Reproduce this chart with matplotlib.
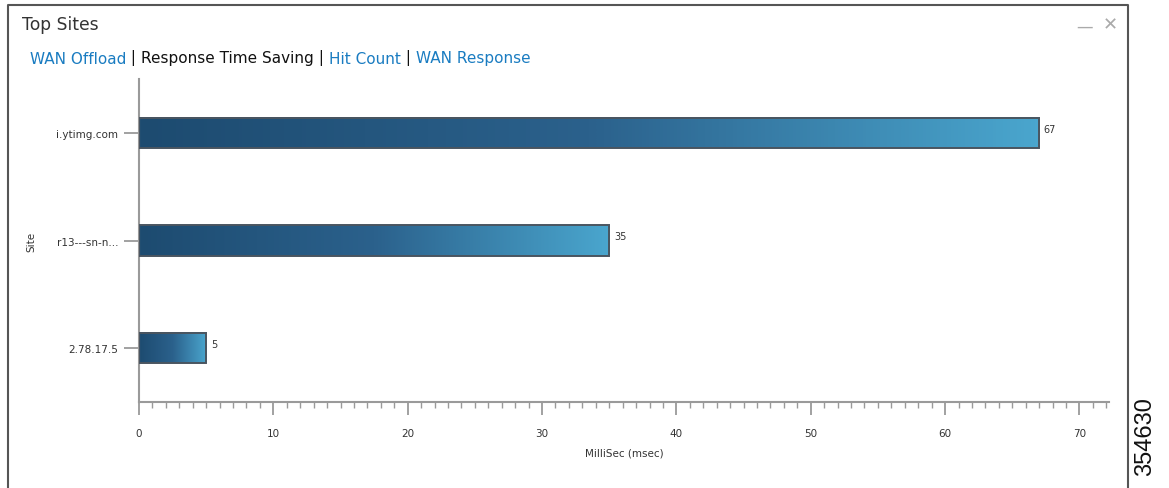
import numpy as np
import matplotlib
matplotlib.use("Agg")
import matplotlib.pyplot as plt
from matplotlib.colors import LinearSegmentedColormap
from matplotlib.patches import Rectangle

# chart data
sites = ["i.ytimg.com", "r13---sn-n...", "2.78.17.5"]
saving_ms = [67, 35, 5]
tabs = ["WAN Offload", "Response Time Saving", "Hit Count", "WAN Response"]
active_tab = "Response Time Saving"
figure_id = "354630"

W, H = 1169, 489
fig = plt.figure(figsize=(W / 100, H / 100), dpi=100)
plt.rcParams["font.family"] = ["DejaVu Sans"]

# background overlay in pixel coords for frame / header text
bg = fig.add_axes([0, 0, 1, 1])
bg.set_xlim(0, W)
bg.set_ylim(H, 0)
bg.axis("off")
bg.plot([8, 8, 1128, 1128], [H, 6, 6, H], color="#555555", lw=1.5)

bg.text(22, 25, "Top Sites", fontsize=12.3, color="#333333", va="center")
bg.text(1085, 27, "\u2014", fontsize=12, color="#aaaaaa", va="center", ha="center")
bg.text(1110, 25, "\u2715", fontsize=13, color="#aaaaaa", va="center", ha="center")

# tab links, chained one after another
fs_tab = 10.95
prev = bg.text(30, 59, tabs[0], fontsize=fs_tab, color="#1a7cc1", va="center")
for t in tabs[1:]:
    sep = bg.annotate(" | ", xy=(1, 0), xycoords=prev, va="bottom",
                      fontsize=fs_tab, color="#111111")
    prev = bg.annotate(t, xy=(1, 0), xycoords=sep, va="bottom", fontsize=fs_tab,
                       color="#111111" if t == active_tab else "#1a7cc1")

bg.text(1145, 437, figure_id, rotation=90, fontsize=17, ha="center", va="center",
        family="Liberation Sans", color="#111111")

# main chart axes
x0, x1, y0, y1 = 139, 1109, 80, 403
ax = fig.add_axes([x0 / W, (H - y1) / H, (x1 - x0) / W, (y1 - y0) / H])
ax.patch.set_alpha(0)

cmap = LinearSegmentedColormap.from_list("bar", ["#1d4b70", "#2b618c", "#4aa6ce"])
grad = np.linspace(0, 1, 256).reshape(1, -1)
bar_h = 0.28
ypos = np.arange(len(sites))
for y, v in zip(ypos, saving_ms):
    ax.imshow(grad, cmap=cmap, aspect="auto", interpolation="bicubic",
              extent=(0, v, y + bar_h / 2, y - bar_h / 2), zorder=2)
    ax.add_patch(Rectangle((0, y - bar_h / 2), v, bar_h, fill=False,
                           edgecolor="#4a5560", lw=1.4, zorder=3))
    ax.text(v + 0.35, y - 0.04, str(v), fontsize=7, color="#333333", va="center")

ax.set_xlim(0, 72.2)
ax.set_ylim(2.5, -0.5)
ax.set_yticks(ypos)
ax.set_yticklabels(sites)
ax.set_xticks(np.arange(0, 71, 10))
ax.set_xticks(np.arange(0, 73, 1), minor=True)

for s in ["top", "right"]:
    ax.spines[s].set_visible(False)
for s in ["left", "bottom"]:
    ax.spines[s].set_color("#9a9a9a")
    ax.spines[s].set_linewidth(1.5)

ax.tick_params(axis="x", which="major", length=9.5, width=1.3, color="#9a9a9a",
               labelsize=7.5, labelcolor="#333333", pad=9)
ax.tick_params(axis="x", which="minor", length=4.5, width=1, color="#9a9a9a")
ax.tick_params(axis="y", length=11, width=1.3, color="#9a9a9a",
               labelsize=7.5, labelcolor="#333333", pad=4)

ax.set_xlabel("MilliSec (msec)", fontsize=7.5, color="#333333", labelpad=7)
ax.set_ylabel("Site", fontsize=7.5, color="#333333")
ax.yaxis.set_label_coords(-0.106, 0.5)

fig.savefig("out.png", dpi=100)
